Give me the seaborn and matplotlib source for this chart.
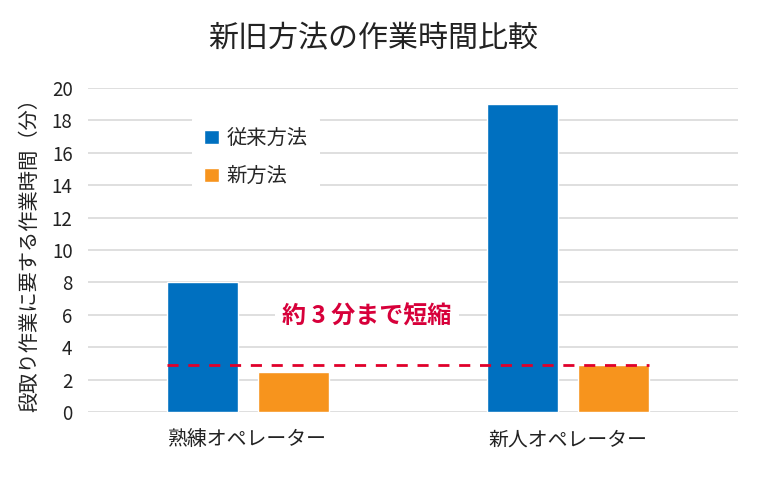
import matplotlib
matplotlib.use("Agg")
import matplotlib.pyplot as plt
import seaborn as sns
import pandas as pd

categories = ["熟練オペレーター", "新人オペレーター"]
methods = ["従来方法", "新方法"]
old_values = [8, 19]
new_values = [2.5, 2.9]
target_line = 2.9
yticks = [0, 2, 4, 6, 8, 10, 12, 14, 16, 18, 20]
title = "新旧方法の作業時間比較"
ylabel = "段取り作業に要する作業時間（分）"
note = "約 3 分まで短縮"

colors = ["#0070c0", "#f7941d"]

sns.set_theme(style="white")
plt.rcParams["font.family"] = ["Noto Sans CJK JP", "DejaVu Sans"]

df = pd.DataFrame({
    "category": categories * 2,
    "method": [methods[0]] * 2 + [methods[1]] * 2,
    "value": old_values + new_values,
})

fig = plt.figure(figsize=(7.7, 4.78), dpi=100)
ax = fig.add_axes([0.114, 0.138, 0.844, 0.678])

sns.barplot(data=df, x="category", y="value", hue="method", order=categories,
            hue_order=methods, palette=colors, width=0.569, gap=0.22,
            saturation=1, ax=ax, legend=True)

ax.set_ylim(0, 20)
ax.set_xlim(-0.5, 1.53)
ax.set_yticks(yticks)
ax.set_yticklabels([str(t) for t in yticks], fontsize=13.5, color="#222222")
ax.tick_params(axis="x", labelsize=14.3, colors="#222222", pad=13)
ax.tick_params(axis="y", pad=11, length=0)
ax.tick_params(axis="x", length=0)
ax.grid(axis="y", color="#d9d9d9", linewidth=1.2)
ax.set_axisbelow(True)
for s in ax.spines.values():
    s.set_visible(False)
ax.set_xlabel("")
ax.set_ylabel(ylabel, fontsize=14.6, color="#222222", labelpad=8)

# dashed reference line spanning from first bar to last bar
xs = [p.get_x() for p in ax.patches if p.get_width() > 0]
xe = [p.get_x() + p.get_width() for p in ax.patches if p.get_width() > 0]
ax.hlines(target_line, min(xs), max(xe), colors="#e0002a", linestyles=(0, (4, 3.5)),
          linewidth=2, zorder=5)

ax.text(0.372, 5.9, note, color="#d7003a", fontsize=17.3, fontweight="bold",
        ha="center", va="center", zorder=6,
        bbox=dict(facecolor="white", edgecolor="none", pad=5))

handles, labels = ax.get_legend_handles_labels()
leg = ax.legend(handles, labels, loc="upper left", bbox_to_anchor=(0.145, 0.945),
                fontsize=14.6, frameon=True, facecolor="white", edgecolor="none",
                framealpha=1, handlelength=0.7, handleheight=0.7,
                handletextpad=0.4, labelspacing=0.85, borderpad=0.6)
leg.get_frame().set_linewidth(0)

fig.suptitle(title, x=0.485, y=0.952, fontsize=21.6, color="#222222")

fig.savefig("out.png", dpi=100)
